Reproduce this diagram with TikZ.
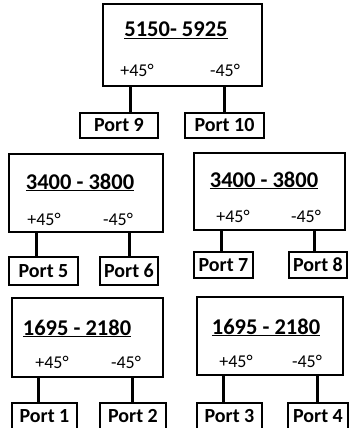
\documentclass[tikz,border=0pt]{standalone}
\usepackage{fontspec}
\setmainfont{Carlito}
\usetikzlibrary{positioning}

\tikzset{
  band/.style={draw, line width=2pt, inner sep=0pt, outer sep=0pt},
  port/.style={draw, line width=1.3pt, inner sep=0pt, outer sep=0pt,
    font=\fontsize{20}{22}\selectfont\bfseries},
  freqlabel/.style={anchor=base, inner sep=0pt, font=\fontsize{22.5}{26}\selectfont\bfseries},
  pol/.style={anchor=base, inner sep=0pt, font=\fontsize{18}{20}\selectfont},
  stem/.style={line width=3pt}
}

\begin{document}
\begin{tikzpicture}[x=1pt, y=-1pt]
  \useasboundingbox (0,0) rectangle (350,428);

  % antenna boxes
  \node[band, minimum width=159pt, minimum height=82pt] (top) at (182.5,45) {};
  \node[band, minimum width=154pt, minimum height=78pt] (midl) at (86,193) {};
  \node[band, minimum width=151pt, minimum height=77pt] (midr) at (269.5,191.5) {};
  \node[band, minimum width=151pt, minimum height=79pt] (lowl) at (87.5,337.5) {};
  \node[band, minimum width=146pt, minimum height=78pt] (lowr) at (270,336) {};

  % frequency ranges
  \node[freqlabel] (ftop) at (176,37) {\underline{5150- 5925}};
  \node[freqlabel] (fmidl) at (80,189) {\underline{3400 - 3800}};
  \node[freqlabel] (fmidr) at (264,187) {\underline{3400 - 3800}};
  \node[freqlabel] (flowl) at (77,335) {\underline{1695 - 2180}};
  \node[freqlabel] (flowr) at (266,334) {\underline{1695 - 2180}};

  % polarisations
  \node[pol] (ptop) at (137,76) {+45°};
  \node[pol] (mtop) at (225,76) {-45°};
  \node[pol] (pmidl) at (44,225) {+45°};
  \node[pol] (mmidl) at (118,225) {-45°};
  \node[pol] (pmidr) at (233,222) {+45°};
  \node[pol] (mmidr) at (306,222) {-45°};
  \node[pol] (plowl) at (52,368) {+45°};
  \node[pol] (mlowl) at (126,368) {-45°};
  \node[pol] (plowr) at (236,367) {+45°};
  \node[pol] (mlowr) at (307,367) {-45°};

  % ports
  \node[port, minimum width=78pt, minimum height=25pt] (p9) at (119,125.5) {Port 9};
  \node[port, minimum width=79pt, minimum height=25pt] (p10) at (224.5,125.5) {Port 10};
  \node[port, minimum width=69pt, minimum height=28pt] (p5) at (43.5,271) {Port 5};
  \node[port, minimum width=58pt, minimum height=28pt] (p6) at (129,271) {Port 6};
  \node[port, minimum width=59pt, minimum height=26pt] (p7) at (223.5,265) {Port 7};
  \node[port, minimum width=58pt, minimum height=26pt] (p8) at (318,265) {Port 8};
  \node[port, minimum width=65pt, minimum height=27pt] (p1) at (44.5,416.5) {Port 1};
  \node[port, minimum width=66pt, minimum height=27pt] (p2) at (133,416.5) {Port 2};
  \node[port, minimum width=65pt, minimum height=27pt] (p3) at (229.5,416.5) {Port 3};
  \node[port, minimum width=60pt, minimum height=27pt] (p4) at (318,416.5) {Port 4};

  % feed lines
  \foreach \p/\s/\b in {p9/11/top, p10/-0.5/top, p5/-7.5/midl, p6/0/midl,
      p7/-2.5/midr, p8/-4/midr, p1/-6.5/lowl, p2/-1/lowl, p3/-6.5/lowr, p4/-1/lowr}
    \draw[stem] ([xshift=\s pt]\p.north) -- ([xshift=\s pt]\p.north |- \b.south);

\end{tikzpicture}
\end{document}
